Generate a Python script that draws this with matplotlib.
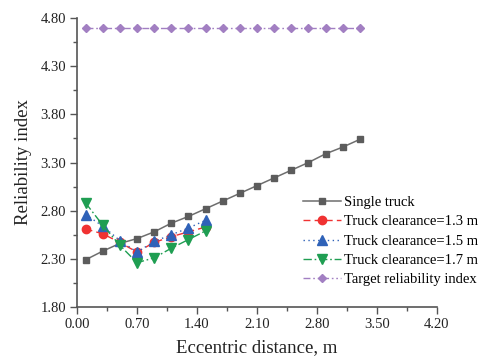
import numpy as np
import matplotlib.pyplot as plt
from matplotlib.ticker import FixedLocator

plt.rcParams['font.family'] = ['Liberation Serif', 'DejaVu Serif']

# eccentric distance (m)
x_single = [0.1, 0.3, 0.5, 0.7, 0.9, 1.1, 1.3, 1.5, 1.7, 1.9, 2.1, 2.3, 2.5, 2.7, 2.9, 3.1, 3.3]
x_two = [0.1, 0.3, 0.5, 0.7, 0.9, 1.1, 1.3, 1.5]

single_truck = [2.29, 2.38, 2.46, 2.51, 2.58, 2.67, 2.74, 2.82, 2.90, 2.98, 3.06, 3.14, 3.22, 3.30, 3.39, 3.46, 3.54]
clearance_13 = [2.61, 2.56, 2.47, 2.37, 2.47, 2.53, 2.58, 2.63]
clearance_15 = [2.76, 2.64, 2.49, 2.37, 2.48, 2.55, 2.62, 2.70]
clearance_17 = [2.88, 2.65, 2.44, 2.26, 2.31, 2.41, 2.50, 2.59]
target = [4.70] * len(x_single)

x_ticks = [0.0, 0.7, 1.4, 2.1, 2.8, 3.5, 4.2]
y_ticks = [1.8, 2.3, 2.8, 3.3, 3.8, 4.3, 4.8]

fig = plt.figure(figsize=(4.84, 3.6), dpi=100)
ax = fig.add_axes([77 / 484, 53 / 360, 360 / 484, 289 / 360])

ax.plot(x_single, single_truck, color='#6e6e6e', lw=1.1, marker='s', ms=5,
        mfc='#5c5c5c', mec='#5c5c5c', label='Single truck')
ax.plot(x_two, clearance_13, color='#f03232', lw=1.0, ls=(0, (5, 3)), marker='o', ms=6,
        mfc='#f03232', mec='#f03232', label='Truck clearance=1.3 m')
ax.plot(x_two, clearance_15, color='#2f62b8', lw=1.0, ls=(0, (1, 2.5)), marker='^', ms=6.5,
        mfc='#2f62b8', mec='#2f62b8', label='Truck clearance=1.5 m')
ax.plot(x_two, clearance_17, color='#1f9e52', lw=1.0, ls=(0, (6, 2, 1.2, 2)), marker='v', ms=6.5,
        mfc='#1f9e52', mec='#1f9e52', label='Truck clearance=1.7 m')
ax.plot(x_single, target, color='#a27fc2', lw=1.0, ls=(0, (5, 2, 1.2, 2, 1.2, 2)), marker='D', ms=4.5,
        mfc='#a27fc2', mec='#a27fc2', label='Target reliability index')

ax.set_xlim(0, 4.2)
ax.set_ylim(1.8, 4.8)
ax.xaxis.set_major_locator(FixedLocator(x_ticks))
ax.yaxis.set_major_locator(FixedLocator(y_ticks))
ax.xaxis.set_minor_locator(FixedLocator(np.arange(0.35, 4.2, 0.7)))
ax.yaxis.set_minor_locator(FixedLocator(np.arange(2.05, 4.8, 0.5)))
ax.xaxis.set_major_formatter(lambda v, p: f'{v:.2f}')
ax.yaxis.set_major_formatter(lambda v, p: f'{v:.2f}')

for side in ('top', 'right'):
    ax.spines[side].set_visible(False)
for side in ('left', 'bottom'):
    ax.spines[side].set_color('#555555')
    ax.spines[side].set_linewidth(1.2)
ax.tick_params(which='major', direction='out', length=5, width=1.0, color='#555555',
               labelsize=10.5, labelcolor='#222222', pad=3)
ax.tick_params(which='minor', direction='out', length=3, width=1.0, color='#555555')

ax.set_xlabel('Eccentric distance, m', fontsize=13.5, color='#222222', labelpad=6)
ax.set_ylabel('Reliability index', fontsize=13.5, color='#222222', labelpad=6)

ax.legend(loc='upper left', bbox_to_anchor=(300 / 484, 1 - 193 / 360), bbox_transform=fig.transFigure,
          frameon=False, fontsize=10.5, handlelength=2.6, handletextpad=0.2,
          labelspacing=0.42, borderaxespad=0, borderpad=0.2)

fig.savefig('out.png', dpi=100)
